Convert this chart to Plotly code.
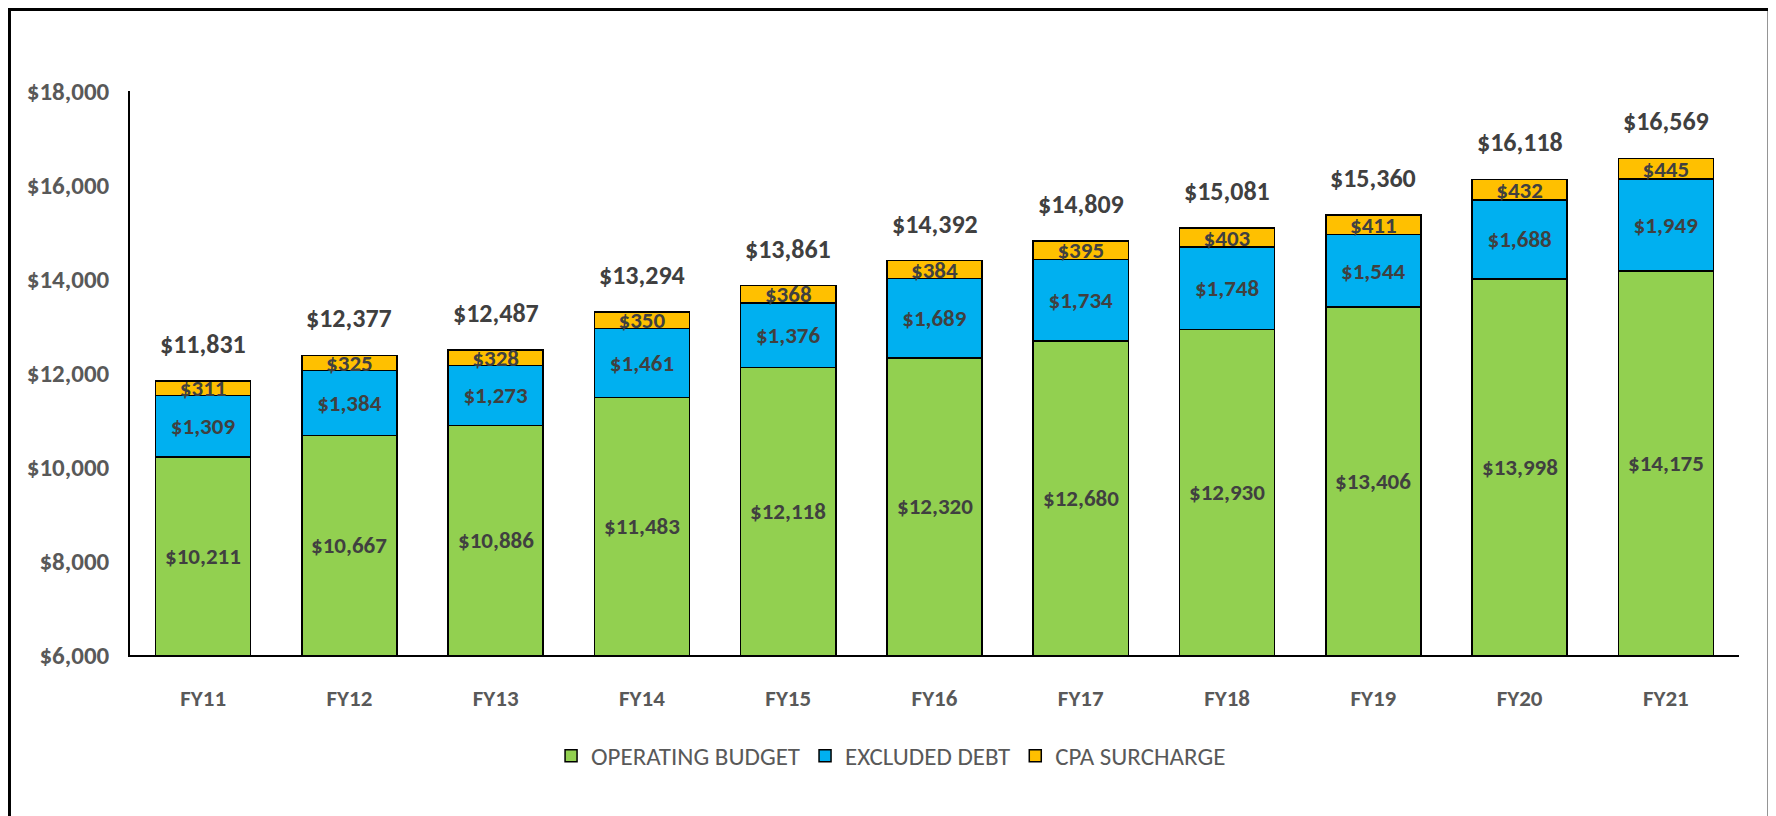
import plotly.graph_objects as go

years = ["FY11", "FY12", "FY13", "FY14", "FY15", "FY16", "FY17", "FY18", "FY19", "FY20", "FY21"]
operating = [10211, 10667, 10886, 11483, 12118, 12320, 12680, 12930, 13406, 13998, 14175]
excluded = [1309, 1384, 1273, 1461, 1376, 1689, 1734, 1748, 1544, 1688, 1949]
cpa = [311, 325, 328, 350, 368, 384, 395, 403, 411, 432, 445]
totals = [11831, 12377, 12487, 13294, 13861, 14392, 14809, 15081, 15360, 16118, 16569]

y_min, y_max = 6000, 18000

FONT = "Carlito, Calibri, sans-serif"
LABEL = "#404040"
GREY = "#595959"


def money(v):
    return "$" + format(v, ",")


series = [
    ("OPERATING BUDGET", operating, "#92D050"),
    ("EXCLUDED DEBT", excluded, "#00B0F0"),
    ("CPA SURCHARGE", cpa, "#FFC000"),
]

fig = go.Figure()
for i, (name, vals, color) in enumerate(series):
    fig.add_trace(go.Bar(
        x=years, y=vals, name=name,
        marker=dict(color=color, line=dict(color="black", width=1.5)),
        text=[money(v) for v in vals] if i > 0 else None,
        textposition="inside" if i > 0 else "none",
        insidetextanchor="middle",
        constraintext="none",
        textfont=dict(family=FONT, size=23, color=LABEL, weight="bold"),
        hoverinfo="skip",
    ))

# operating budget labels sit in the middle of the visible part of the bar
for yr, v in zip(years, operating):
    fig.add_annotation(x=yr, y=(y_min + v) / 2, text=money(v), showarrow=False,
                       font=dict(family=FONT, size=23, color=LABEL, weight="bold"))

for yr, t in zip(years, totals):
    fig.add_annotation(x=yr, y=t, text=money(t), showarrow=False,
                       yanchor="middle", yshift=37,
                       font=dict(family=FONT, size=26, color=LABEL, weight="bold"))

# outer frame
fig.add_shape(type="rect", xref="paper", yref="paper",
              x0=-0.0749, x1=1.0187, y0=-0.32, y1=1.1445,
              line=dict(color="black", width=3))

fig.update_layout(
    width=1776, height=816,
    barmode="stack", bargap=0.35,
    plot_bgcolor="white", paper_bgcolor="white",
    margin=dict(l=122, r=45, t=83, b=169),
    uniformtext=dict(minsize=23, mode="show"),
    font=dict(family=FONT, color=GREY),
    showlegend=True,
    legend=dict(orientation="h", x=0.473, xanchor="center", y=-0.179, yanchor="middle",
                font=dict(family=FONT, size=25, color=GREY), traceorder="normal",
                itemwidth=30),
    xaxis=dict(showline=True, linecolor="black", linewidth=1.5, ticks="",
               tickfont=dict(family=FONT, size=23, color=GREY, weight="bold"),
               ticklabelstandoff=22, automargin=False, range=[-0.5, 10.5]),
    yaxis=dict(range=[y_min, y_max], dtick=2000, tickprefix="$", tickformat=",d",
               showgrid=False, showline=True, linecolor="black", linewidth=1.5,
               ticks="", zeroline=False, ticklabelstandoff=14, automargin=False,
               tickfont=dict(family=FONT, size=25, color=GREY, weight="bold")),
)

fig.write_html("out.html")
